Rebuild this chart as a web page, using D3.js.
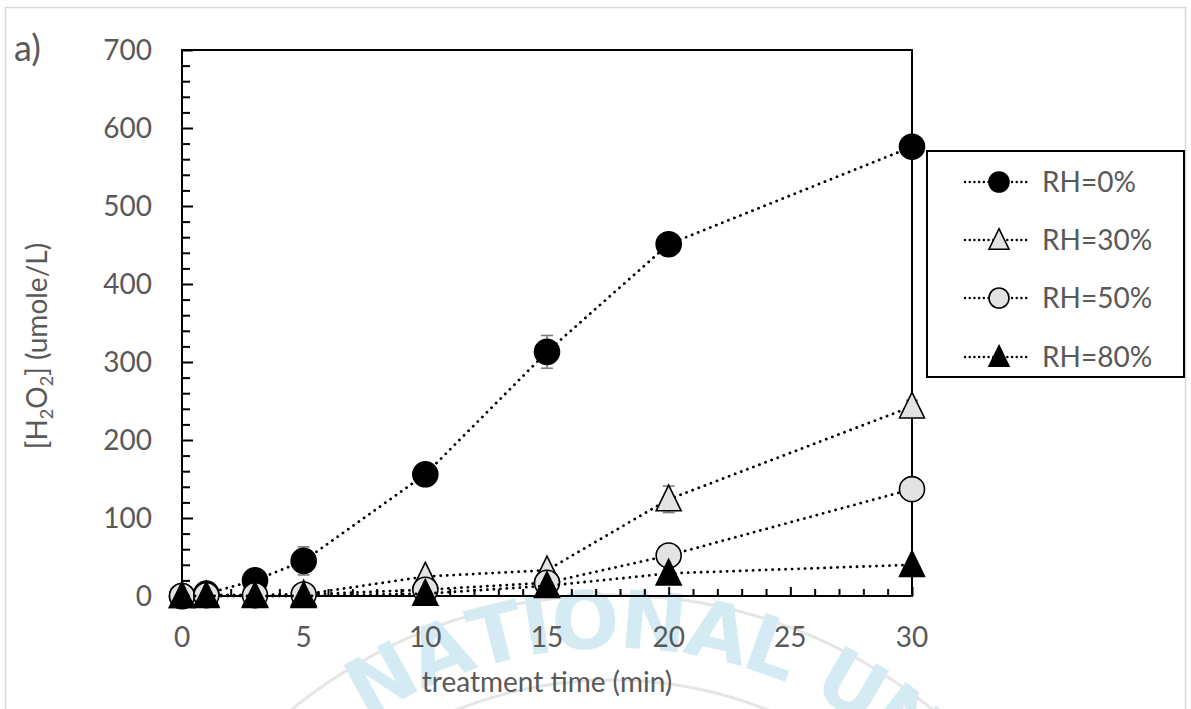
<!DOCTYPE html>
<html>
<head>
<meta charset="utf-8">
<script src="https://cdn.jsdelivr.net/npm/d3@7"></script>
<style>
  html, body { margin: 0; padding: 0; background: #fff; }
  svg { display: block; }
  text { font-family: Lato, "Open Sans", sans-serif; fill: #595959; }
</style>
</head>
<body>
<svg id="chart" width="1191" height="709"></svg>
<script>
// ---- data ----
const times = [0, 1, 3, 5, 10, 15, 20, 30];
const seriesNames = ["RH=0%", "RH=30%", "RH=50%", "RH=80%"];
const rh0 = [0, 3, 20, 45, 156, 313, 451, 576];
const rh0Err = [0, 0, 3, 18, 5, 21, 6, 6];
const rh30 = [0, 1, 1, 2, 25, 33, 124, 243];
const rh30Err = [0, 0, 0, 1, 3, 4, 17, 8];
const rh50 = [0, 1, 1, 2, 8, 17, 52, 137];
const rh50Err = [0, 0, 0, 0, 2, 3, 4, 5];
const rh80 = [0, 0, 0, 0, 3, 13, 29, 40];
const rh80Err = [0, 0, 0, 0, 1, 2, 3, 4];
const xTicks = [0, 5, 10, 15, 20, 25, 30];
const yTicks = [0, 100, 200, 300, 400, 500, 600, 700];
const panelLabel = "a)";
const xTitle = "treatment time (min)";
const watermarkText = "NATIONAL UN";

// ---- styles ----
const styles = [
  { shape: "circle", fill: "#000" },
  { shape: "triangle", fill: "#e3e3e3" },
  { shape: "circle", fill: "#e3e3e3" },
  { shape: "triangle", fill: "#000" }
];
const values = [rh0, rh30, rh50, rh80];
const errs = [rh0Err, rh30Err, rh50Err, rh80Err];

const svg = d3.select("#chart");
const x = d3.scaleLinear().domain([0, 30]).range([182, 912]);
const y = d3.scaleLinear().domain([0, 700]).range([596, 50]);

// outer light border
svg.append("rect").attr("x", 5.5).attr("y", 7.5).attr("width", 1180).attr("height", 720)
  .attr("fill", "none").attr("stroke", "#d9d9d9").attr("stroke-width", 1.5);

// ---- watermark (seal) ----
const wm = svg.append("g").attr("opacity", 0.38);
const cx = 612, cy = 1100;
function arcPath(r, a0, a1) {
  const p = d3.path();
  p.arc(cx, cy, r, a0 - Math.PI / 2, a1 - Math.PI / 2);
  return p.toString();
}
const rad = d => d * Math.PI / 180;
wm.append("path").attr("d", arcPath(505, rad(-60), rad(60))).attr("fill", "none")
  .attr("stroke", "#bdbdbd").attr("stroke-width", 3);
wm.append("path").attr("d", arcPath(420, rad(-60), rad(60))).attr("fill", "none")
  .attr("stroke", "#bdbdbd").attr("stroke-width", 3);
{
  const rText = 452, fs = 80, gap = -3;
  const chars = watermarkText.split("");
  const meas = wm.append("text").attr("font-size", fs).attr("font-weight", "bold")
    .style("font-family", "'DejaVu Sans', sans-serif");
  const widths = chars.map(c => { meas.text(c === " " ? "\u00a0" : c); return meas.node().getComputedTextLength(); });
  meas.remove();
  let s = rad(-33) * rText;
  chars.forEach((c, i) => {
    const w = c === " " ? widths[i] * 1.1 : widths[i];
    const a = (s + w / 2) / rText;
    s += w + gap;
    if (c === " ") return;
    const px = cx + rText * Math.sin(a), py = cy - rText * Math.cos(a);
    wm.append("text").attr("transform", `translate(${px},${py}) rotate(${a * 180 / Math.PI})`)
      .attr("text-anchor", "middle").attr("font-size", fs).attr("font-weight", "bold")
      .style("font-family", "'DejaVu Sans', sans-serif").style("fill", "#8fcbe0").text(c);
  });
}

// ---- frame / axes ----
const axisG = svg.append("g").attr("stroke", "#000").attr("stroke-width", 2).attr("fill", "none");
axisG.append("path").attr("d", `M${x(0)},${y(700)}H${x(30)}V${y(0)}`);

// y axis
const yAxis = d3.axisLeft(y).tickValues(yTicks).tickSize(-11).tickPadding(0).tickFormat("");
const yg = svg.append("g").attr("transform", `translate(${x(0)},0)`).call(yAxis);
const yMinor = d3.axisLeft(y).tickValues(d3.range(0, 701, 20).filter(v => v % 100 !== 0)).tickSize(-8).tickFormat("");
const ygm = svg.append("g").attr("transform", `translate(${x(0)},0)`).call(yMinor);
[yg, ygm].forEach(g => {
  g.selectAll("path").attr("stroke", "#000").attr("stroke-width", 2);
  g.selectAll("line").attr("stroke", "#000").attr("stroke-width", 2);
});
yg.select(".domain").attr("d", `M0,${y(0) + 1}V${y(700) - 1}`);
ygm.select(".domain").remove();

// x axis
const xAxis = d3.axisBottom(x).tickValues(xTicks).tickSize(-9).tickFormat("");
const xg = svg.append("g").attr("transform", `translate(0,${y(0)})`).call(xAxis);
const xMinor = d3.axisBottom(x).tickValues(d3.range(1, 30).filter(v => v % 5 !== 0)).tickSize(-7).tickFormat("");
const xgm = svg.append("g").attr("transform", `translate(0,${y(0)})`).call(xMinor);
[xg, xgm].forEach(g => {
  g.selectAll("path").attr("stroke", "#000").attr("stroke-width", 2);
  g.selectAll("line").attr("stroke", "#000").attr("stroke-width", 2);
});
xg.select(".domain").attr("d", `M${x(0) - 1},0H${x(30) + 1}`);
xgm.select(".domain").remove();

// tick labels
svg.append("g").selectAll("text").data(yTicks).join("text")
  .attr("x", 152).attr("y", d => y(d) + 10).attr("text-anchor", "end")
  .attr("font-size", 28).text(d => d);
svg.append("g").selectAll("text").data(xTicks).join("text")
  .attr("x", d => x(d)).attr("y", 647).attr("text-anchor", "middle")
  .attr("font-size", 28).text(d => d);

// axis titles
svg.append("text").attr("x", x(15)).attr("y", 692).attr("text-anchor", "middle")
  .attr("font-size", 28).text(xTitle);
const yt = svg.append("text").attr("transform", "translate(47,346) rotate(-90)")
  .attr("text-anchor", "middle").attr("font-size", 28);
yt.append("tspan").text("[H");
yt.append("tspan").attr("font-size", 18).attr("dy", 6).text("2");
yt.append("tspan").attr("dy", -6).text("O");
yt.append("tspan").attr("font-size", 18).attr("dy", 6).text("2");
yt.append("tspan").attr("dy", -6).text("] (umole/L)");

svg.append("text").attr("x", 14).attr("y", 61).attr("font-size", 36).text(panelLabel);

// ---- marker helper ----
function drawMarker(sel, shape, fill, size) {
  if (shape === "circle") {
    sel.append("circle").attr("r", size).attr("fill", fill)
      .attr("stroke", "#000").attr("stroke-width", 1.6);
  } else {
    const h = size * 2.05, w = size * 2;
    sel.append("path").attr("d", `M0,${-h * 0.55}L${w / 2},${h * 0.45}L${-w / 2},${h * 0.45}Z`)
      .attr("fill", fill).attr("stroke", "#000").attr("stroke-width", 1.6)
      .attr("stroke-linejoin", "miter");
  }
}

// ---- series ----
const line = d3.line().x(d => x(d.t)).y(d => y(d.v));
values.forEach((vals, si) => {
  const pts = times.map((t, i) => ({ t, v: vals[i], e: errs[si][i] }));
  const g = svg.append("g");
  g.append("path").datum(pts).attr("d", line).attr("fill", "none")
    .attr("stroke", "#000").attr("stroke-width", 2.8)
    .attr("stroke-dasharray", "0.1 6.4").attr("stroke-linecap", "round");
  const eb = g.append("g").attr("stroke", "#7f7f7f").attr("stroke-width", 1.6);
  pts.filter(p => p.e > 0).forEach(p => {
    eb.append("line").attr("x1", x(p.t)).attr("x2", x(p.t)).attr("y1", y(p.v - p.e)).attr("y2", y(p.v + p.e));
    eb.append("line").attr("x1", x(p.t) - 6).attr("x2", x(p.t) + 6).attr("y1", y(p.v + p.e)).attr("y2", y(p.v + p.e));
    eb.append("line").attr("x1", x(p.t) - 6).attr("x2", x(p.t) + 6).attr("y1", y(p.v - p.e)).attr("y2", y(p.v - p.e));
  });
  pts.forEach(p => {
    const m = g.append("g").attr("transform", `translate(${x(p.t)},${y(p.v)})`);
    drawMarker(m, styles[si].shape, styles[si].fill, 12.5);
  });
});

// ---- legend ----
svg.append("rect").attr("x", 927).attr("y", 151).attr("width", 257).attr("height", 226)
  .attr("fill", "#fff").attr("stroke", "#000").attr("stroke-width", 2);
const rowY = [182, 240, 298, 357];
seriesNames.forEach((name, i) => {
  const g = svg.append("g").attr("transform", `translate(0,${rowY[i]})`);
  g.append("line").attr("x1", 965).attr("x2", 1030).attr("y1", 0).attr("y2", 0)
    .attr("stroke", "#000").attr("stroke-width", 2.4)
    .attr("stroke-dasharray", "0.1 4.6").attr("stroke-linecap", "round");
  const m = g.append("g").attr("transform", "translate(999,0)");
  drawMarker(m, styles[i].shape, styles[i].fill, 10);
  g.append("text").attr("x", 1042).attr("y", 10).attr("font-size", 28).text(name);
});
</script>
</body>
</html>
